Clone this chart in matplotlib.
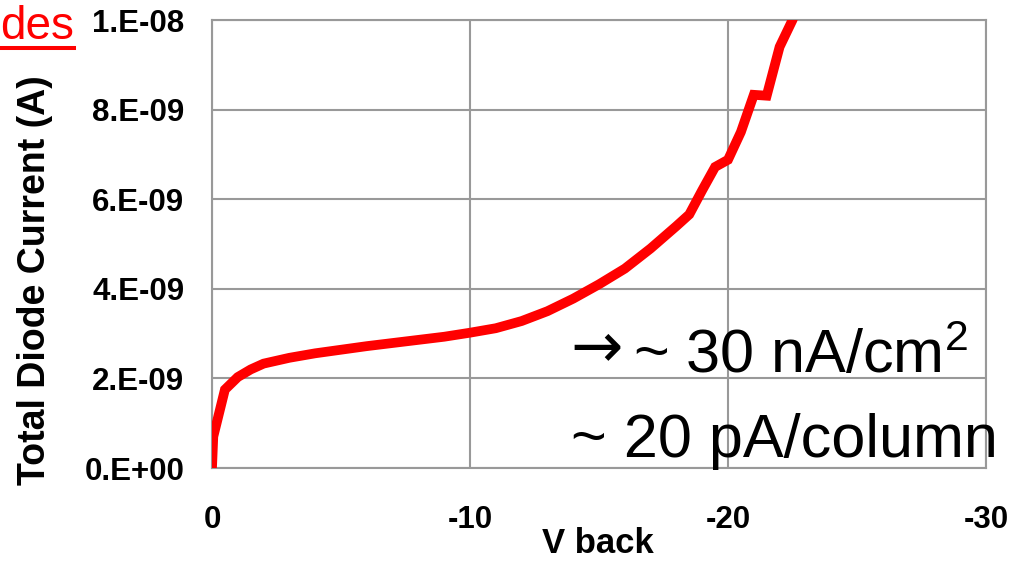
import matplotlib
matplotlib.use("Agg")
import matplotlib.pyplot as plt

# Data (V back in volts, current in amps)
v_back = [0, -0.05, -0.5, -1.0, -1.5, -2.0, -3, -4, -5, -6, -7, -8, -9, -10,
          -11, -12, -13, -14, -15, -16, -17, -18, -18.5, -19.0, -19.5, -20.0,
          -20.5, -21.0, -21.5, -22.0, -22.5, -23.0]
current_nA = [0, 0.7, 1.75, 2.03, 2.2, 2.33, 2.46, 2.56, 2.64, 2.72, 2.79, 2.86,
              2.93, 3.02, 3.12, 3.28, 3.5, 3.78, 4.1, 4.45, 4.9, 5.4, 5.66, 6.2,
              6.72, 6.88, 7.5, 8.33, 8.31, 9.4, 10.0, 10.8]
current = [c * 1e-9 for c in current_nA]

x_ticks = [0, -10, -20, -30]
x_tick_labels = ["0", "-10", "-20", "-30"]
y_ticks = [0, 2e-9, 4e-9, 6e-9, 8e-9, 1e-8]
y_tick_labels = ["0.E+00", "2.E-09", "4.E-09", "6.E-09", "8.E-09", "1.E-08"]

plt.rcParams['font.family'] = ['Liberation Sans', 'DejaVu Sans']
plt.rcParams['mathtext.fontset'] = 'custom'
plt.rcParams['mathtext.rm'] = 'Liberation Sans'
plt.rcParams['mathtext.it'] = 'Liberation Sans'

fig = plt.figure(figsize=(10.23, 5.65), dpi=100)
ax = fig.add_axes([212 / 1023, 1 - 468 / 565, (986 - 212) / 1023, (468 - 20) / 565])

ax.plot(v_back, current, color="#ff0000", linewidth=7, solid_joinstyle="miter",
        clip_on=True, zorder=3)

ax.set_xlim(0, -30)
ax.set_ylim(0, 1e-8)
ax.set_xticks(x_ticks)
ax.set_xticklabels(x_tick_labels, fontsize=22.5, fontweight="bold")
ax.set_yticks(y_ticks)
ax.set_yticklabels(y_tick_labels, fontsize=22.5, fontweight="bold")
ax.tick_params(axis="both", length=0)
ax.tick_params(axis="x", pad=27)
ax.tick_params(axis="y", pad=20)

ax.grid(True, color="#999999", linewidth=1.5)
ax.set_axisbelow(True)
for s in ax.spines.values():
    s.set_color("#999999")
    s.set_linewidth(1.5)

fig.text(598 / 1023, 1 - 553 / 565, "V back", fontsize=25, fontweight="bold",
         ha="center", va="baseline")
fig.text(35 / 1023, 1 - 280 / 565, "Total Diode Current (A)", fontsize=27,
         fontweight="bold", rotation=90, ha="center", va="center")

fig.text(570 / 1023, 1 - 366 / 565, "\u2192", fontsize=45,
         family=['DejaVu Sans'], ha="left", va="baseline")
fig.text(801 / 1023, 1 - 373 / 565, "~ 30 nA/cm$^2$", fontsize=44,
         ha="center", va="baseline")
fig.text(784 / 1023, 1 - 457 / 565, "~ 20 pA/column", fontsize=44,
         ha="center", va="baseline")

fig.text(0, 1 - 39 / 565, "des", fontsize=33, color="#ff0000",
         ha="left", va="baseline")
fig.add_artist(plt.Line2D([0, 74 / 1023], [1 - 48 / 565, 1 - 48 / 565],
                          color="#ff0000", linewidth=2.9))

fig.savefig("out.png", dpi=100)
